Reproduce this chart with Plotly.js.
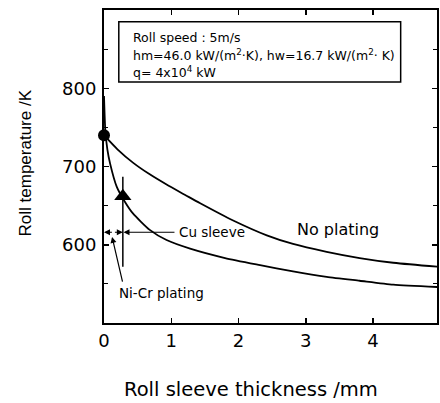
<!DOCTYPE html>
<html>
<head>
<meta charset="utf-8">
<script src="https://cdn.plot.ly/plotly-3.0.1.min.js"></script>
<style>html,body{margin:0;padding:0;background:#fff;}#chart{width:440px;height:403px;}</style>
</head>
<body>
<div id="chart"></div>
<script>
// Data
var noPlatingX = [0, 0.2, 0.43, 0.68, 0.93, 1.2, 1.43, 1.92, 2.42, 2.81, 3.31, 3.8, 4.3, 4.96];
var noPlatingT = [740, 722, 705, 690, 677, 664, 653, 631, 612, 601, 591, 583, 577, 572];
var niCrX = [0, 0.02, 0.05, 0.09, 0.19, 0.31, 0.43, 0.68, 0.93, 1.28, 1.8, 2.32, 2.81, 3.31, 3.8, 4.3, 4.96];
var niCrT = [790, 745, 722, 704, 674, 655, 640, 619, 606, 595, 583, 574, 566, 559, 554, 549, 546];
var startPointX = [0];
var startPointT = [740];
var triPointX = [0.28];
var triPointT = [662];
var xTickVals = [0, 1, 2, 3, 4];
var xTickText = ['0', '1', '2', '3', '4'];
var yTickVals = [600, 700, 800];
var yTickText = ['600', '700', '800'];
var boxLines = [
  'Roll speed : 5m/s',
  'hm=46.0 kW/(m<sup>2</sup>·K), hw=16.7 kW/(m<sup>2</sup>· K)',
  'q= 4x10<sup>4</sup> kW'
];
var boxLineT = [865.5, 843, 821];

var FONT = 'Liberation Sans, Arial, Helvetica, sans-serif';
var WIDE = 'DejaVu Sans, Liberation Sans, Arial, sans-serif';
var traces = [
  {x: noPlatingX, y: noPlatingT, mode: 'lines', line: {color: '#000', width: 1.8, shape: 'spline', smoothing: 0.8}, showlegend: false, hoverinfo: 'skip'},
  {x: niCrX, y: niCrT, mode: 'lines', line: {color: '#000', width: 1.8, shape: 'spline', smoothing: 0.6}, showlegend: false, hoverinfo: 'skip'},
  {x: startPointX, y: startPointT, mode: 'markers', marker: {symbol: 'circle', size: 12, color: '#000'}, cliponaxis: false, showlegend: false},
  {x: triPointX, y: triPointT, mode: 'markers', marker: {symbol: 'triangle-up', size: 15, color: '#000'}, cliponaxis: false, showlegend: false}
];

var annotations = [];
for (var i = 0; i < boxLines.length; i++) {
  annotations.push({x: 0.4, y: boxLineT[i], xref: 'x', yref: 'y', text: boxLines[i], showarrow: false,
    xanchor: 'left', yanchor: 'middle', font: {family: WIDE, size: 12.5, color: '#000'}});
}
annotations.push({x: 2.84, y: 619, xref: 'x', yref: 'y', text: 'No plating', showarrow: false, xanchor: 'left', yanchor: 'middle', font: {family: WIDE, size: 16, color: '#000'}});
annotations.push({x: 1.085, y: 616, xref: 'x', yref: 'y', text: 'Cu sleeve', showarrow: false, xanchor: 'left', yanchor: 'middle', font: {family: WIDE, size: 13.5, color: '#000'}});
annotations.push({x: 0.19, y: 538, xref: 'x', yref: 'y', text: 'Ni-Cr plating', showarrow: false, xanchor: 'left', yanchor: 'middle', font: {family: WIDE, size: 13.5, color: '#000'}});
// arrows
annotations.push({x: 0.0, y: 616, ax: 0.14, ay: 616, xref: 'x', yref: 'y', axref: 'x', ayref: 'y', text: '', showarrow: true, arrowhead: 2, arrowsize: 1, arrowwidth: 1.2, arrowcolor: '#000'});
annotations.push({x: 0.28, y: 616, ax: 0.14, ay: 616, xref: 'x', yref: 'y', axref: 'x', ayref: 'y', text: '', showarrow: true, arrowhead: 2, arrowsize: 1, arrowwidth: 1.2, arrowcolor: '#000'});
annotations.push({x: 0.29, y: 616, ax: 1.07, ay: 616, xref: 'x', yref: 'y', axref: 'x', ayref: 'y', text: '', showarrow: true, arrowhead: 2, arrowsize: 1, arrowwidth: 1.2, arrowcolor: '#000'});
annotations.push({x: 0.12, y: 610, ax: 0.28, ay: 551, xref: 'x', yref: 'y', axref: 'x', ayref: 'y', text: '', showarrow: true, arrowhead: 2, arrowsize: 1, arrowwidth: 1.2, arrowcolor: '#000'});
// axis titles
annotations.push({x: 0.441, y: -0.214, xref: 'paper', yref: 'paper', text: 'Roll sleeve thickness /mm', showarrow: false, xanchor: 'center', yanchor: 'middle', font: {family: WIDE, size: 19.5, color: '#000'}});
annotations.push({x: -0.237, y: 0.51, xref: 'paper', yref: 'paper', text: 'Roll temperature /K', textangle: -90, showarrow: false, xanchor: 'center', yanchor: 'middle', font: {family: FONT, size: 17, color: '#000'}});

var shapes = [
  {type: 'rect', xref: 'x', yref: 'y', x0: 0.22, x1: 4.41, y0: 808, y1: 885, line: {color: '#000', width: 1.5}, fillcolor: 'rgba(0,0,0,0)'},
  {type: 'line', xref: 'x', yref: 'y', x0: 0.28, x1: 0.28, y0: 572, y1: 687, line: {color: '#000', width: 1.5}}
];

var axisCommon = {
  showgrid: false, zeroline: false, showline: true, linecolor: '#000', linewidth: 2,
  mirror: 'allticks', ticks: 'inside', ticklen: 5, tickwidth: 1.5, tickcolor: '#000',
  tickfont: {family: WIDE, size: 18, color: '#000'}
};

var layout = {
  width: 440, height: 403,
  margin: {l: 104, r: 3, t: 10, b: 80},
  paper_bgcolor: '#fff', plot_bgcolor: '#fff',
  font: {family: FONT, color: '#000'},
  xaxis: Object.assign({}, axisCommon, {
    range: [0, 4.95], tickvals: xTickVals, ticktext: xTickText, ticklabelstandoff: 0
  }),
  yaxis: Object.assign({}, axisCommon, {
    range: [500, 900], tickvals: yTickVals, ticktext: yTickText, ticklabelstandoff: 2,
    minor: {dtick: 50, ticks: 'inside', ticklen: 4, tickcolor: '#000', tickwidth: 1.2, showgrid: false}
  }),
  annotations: annotations,
  shapes: shapes
};

Plotly.newPlot('chart', traces, layout, {displayModeBar: false, staticPlot: true});
</script>
</body>
</html>
